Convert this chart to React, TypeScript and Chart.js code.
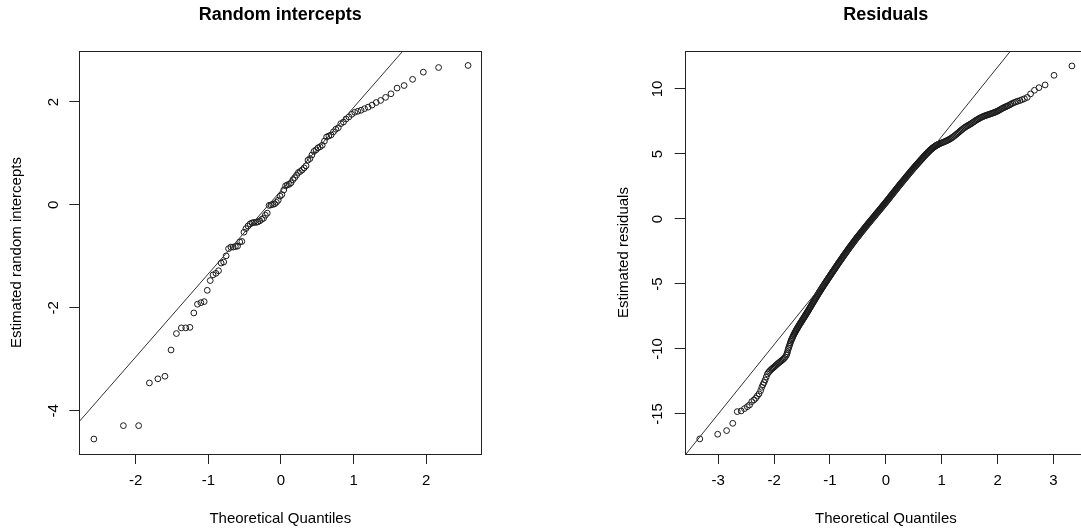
import { useEffect, useRef } from 'react';
import { Chart, registerables } from 'chart.js';

Chart.register(...registerables);

const FONT = "'Liberation Sans', Arial, Helvetica, sans-serif";

// ---------- Left panel: random intercepts ----------
const leftTitle = 'Random intercepts';
const leftXLabel = 'Theoretical Quantiles';
const leftYLabel = 'Estimated random intercepts';
const leftXTicks = [-2, -1, 0, 1, 2];
const leftYTicks = [-4, -2, 0, 2];
const leftQuantiles = [
  -2.576, -2.17, -1.96, -1.812, -1.695, -1.598, -1.514, -1.44, -1.372, -1.311,
  -1.254, -1.2, -1.15, -1.103, -1.058, -1.015, -0.974, -0.935, -0.896, -0.86,
  -0.824, -0.789, -0.755, -0.722, -0.69, -0.659, -0.628, -0.598, -0.568, -0.539,
  -0.51, -0.482, -0.454, -0.426, -0.399, -0.372, -0.345, -0.319, -0.292, -0.266,
  -0.24, -0.215, -0.189, -0.164, -0.138, -0.113, -0.088, -0.063, -0.038, -0.0125,
  0.0125, 0.038, 0.063, 0.088, 0.113, 0.138, 0.164, 0.189, 0.215, 0.24,
  0.266, 0.292, 0.319, 0.345, 0.372, 0.399, 0.426, 0.454, 0.482, 0.51,
  0.539, 0.568, 0.598, 0.628, 0.659, 0.69, 0.722, 0.755, 0.789, 0.824,
  0.86, 0.896, 0.935, 0.974, 1.015, 1.058, 1.103, 1.15, 1.2, 1.254,
  1.311, 1.372, 1.44, 1.514, 1.598, 1.695, 1.812, 1.96, 2.17, 2.576,
];
const leftIntercepts = [
  -4.55, -4.29, -4.29, -3.46, -3.38, -3.33, -2.82, -2.5, -2.39, -2.39,
  -2.38, -2.1, -1.93, -1.9, -1.88, -1.66, -1.47, -1.36, -1.33, -1.28,
  -1.13, -1.11, -0.99, -0.85, -0.82, -0.82, -0.81, -0.8, -0.72, -0.71,
  -0.53, -0.46, -0.41, -0.37, -0.35, -0.34, -0.34, -0.33, -0.31, -0.28,
  -0.26, -0.2, -0.16, -0.01, 0.0, 0.01, 0.02, 0.05, 0.09, 0.17,
  0.2, 0.29, 0.37, 0.39, 0.4, 0.43, 0.49, 0.53, 0.58, 0.63,
  0.65, 0.68, 0.72, 0.76, 0.87, 0.9, 0.97, 1.04, 1.07, 1.11,
  1.13, 1.16, 1.24, 1.32, 1.34, 1.36, 1.42, 1.47, 1.5, 1.58,
  1.61, 1.67, 1.71, 1.76, 1.8, 1.82, 1.84, 1.87, 1.9, 1.94,
  1.99, 2.03, 2.09, 2.16, 2.27, 2.32, 2.44, 2.58, 2.67, 2.71,
];
const leftLineX = [-3, 2];
const leftLineY = [-4.57, 3.51];

// ---------- Right panel: residuals ----------
const rightTitle = 'Residuals';
const rightXLabel = 'Theoretical Quantiles';
const rightYLabel = 'Estimated residuals';
const rightXTicks = [-3, -2, -1, 0, 1, 2, 3];
const rightYTicks = [-15, -10, -5, 0, 5, 10];
const residualLowerTail: [number, number][] = [
  [-3.33, -16.92], [-3.01, -16.56], [-2.85, -16.28], [-2.74, -15.72], [-2.66, -14.82],
  [-2.59, -14.77], [-2.53, -14.59], [-2.48, -14.44], [-2.44, -14.31], [-2.4, -14.05],
  [-2.36, -13.92], [-2.33, -13.79], [-2.3, -13.62], [-2.27, -13.45], [-2.24, -13.2],
  [-2.22, -12.95], [-2.2, -12.75], [-2.18, -12.58], [-2.16, -12.38], [-2.14, -12.15],
];
const residualLowerBand: [number, number][] = [
  [-2.12, -11.92], [-2.1, -11.8], [-2.08, -11.7], [-2.06, -11.61], [-2.04, -11.53],
  [-2.02, -11.46], [-2.0, -11.39], [-1.98, -11.31], [-1.96, -11.23], [-1.94, -11.15],
  [-1.92, -11.08], [-1.9, -11.01], [-1.88, -10.94], [-1.86, -10.87], [-1.84, -10.8],
  [-1.82, -10.72], [-1.8, -10.62], [-1.78, -10.48], [-1.77, -10.36], [-1.76, -10.22],
];
const residualMidBand: [number, number][] = [
  [-1.75, -10.05], [-1.74, -9.92], [-1.73, -9.79], [-1.72, -9.66], [-1.71, -9.53],
  [-1.7, -9.4], [-1.69, -9.3], [-1.68, -9.21], [-1.67, -9.11], [-1.66, -9.02],
  [-1.65, -8.92], [-1.64, -8.84], [-1.63, -8.76], [-1.62, -8.68], [-1.61, -8.6],
  [-1.6, -8.52], [-1.59, -8.45], [-1.58, -8.38], [-1.57, -8.3], [-1.56, -8.23],
  [-1.55, -8.16], [-1.54, -8.09], [-1.53, -8.02], [-1.52, -7.96], [-1.51, -7.89],
  [-1.5, -7.82], [-1.49, -7.75], [-1.48, -7.68], [-1.47, -7.62], [-1.46, -7.55],
  [-1.45, -7.48], [-1.44, -7.41], [-1.43, -7.34], [-1.42, -7.27], [-1.41, -7.2],
  [-1.4, -7.13], [-1.39, -7.06], [-1.38, -6.99], [-1.37, -6.91], [-1.36, -6.84],
  [-1.35, -6.77], [-1.34, -6.7], [-1.33, -6.63], [-1.32, -6.55], [-1.31, -6.48],
  [-1.3, -6.41], [-1.29, -6.34], [-1.28, -6.27], [-1.27, -6.19], [-1.26, -6.12],
  [-1.25, -6.05], [-1.24, -5.98], [-1.23, -5.91], [-1.22, -5.84], [-1.21, -5.77],
  [-1.2, -5.7], [-1.19, -5.63], [-1.18, -5.56], [-1.17, -5.5], [-1.16, -5.43],
  [-1.15, -5.36], [-1.14, -5.29], [-1.13, -5.23], [-1.12, -5.16], [-1.11, -5.1],
  [-1.1, -5.03], [-1.09, -4.96], [-1.08, -4.9], [-1.07, -4.83], [-1.06, -4.77],
  [-1.05, -4.7], [-1.04, -4.64], [-1.03, -4.57], [-1.02, -4.51], [-1.01, -4.44],
  [-1.0, -4.38], [-0.99, -4.32], [-0.98, -4.25], [-0.97, -4.19], [-0.96, -4.12],
  [-0.95, -4.06], [-0.94, -4.0], [-0.93, -3.93], [-0.92, -3.87], [-0.91, -3.8],
  [-0.9, -3.74], [-0.89, -3.68], [-0.88, -3.61], [-0.87, -3.55], [-0.86, -3.48],
  [-0.85, -3.42], [-0.84, -3.36], [-0.83, -3.3], [-0.82, -3.23], [-0.81, -3.17],
  [-0.8, -3.11], [-0.79, -3.05], [-0.78, -2.99], [-0.77, -2.92], [-0.76, -2.86],
  [-0.75, -2.8], [-0.74, -2.74], [-0.73, -2.68], [-0.72, -2.62], [-0.71, -2.56],
  [-0.7, -2.5], [-0.69, -2.44], [-0.68, -2.38], [-0.67, -2.32], [-0.66, -2.26],
  [-0.65, -2.2], [-0.64, -2.14], [-0.63, -2.09], [-0.62, -2.03], [-0.61, -1.97],
  [-0.6, -1.91], [-0.59, -1.85], [-0.58, -1.8], [-0.57, -1.74], [-0.56, -1.68],
  [-0.55, -1.62], [-0.54, -1.57], [-0.53, -1.51], [-0.52, -1.46], [-0.51, -1.4],
  [-0.5, -1.35], [-0.49, -1.3], [-0.48, -1.24], [-0.47, -1.19], [-0.46, -1.13],
  [-0.45, -1.08], [-0.44, -1.03], [-0.43, -0.97], [-0.42, -0.92], [-0.41, -0.86],
  [-0.4, -0.81], [-0.39, -0.76], [-0.38, -0.7], [-0.37, -0.65], [-0.36, -0.59],
  [-0.35, -0.54], [-0.34, -0.49], [-0.33, -0.44], [-0.32, -0.38], [-0.31, -0.33],
  [-0.3, -0.28], [-0.29, -0.23], [-0.28, -0.18], [-0.27, -0.12], [-0.26, -0.07],
  [-0.25, -0.02], [-0.24, 0.03], [-0.23, 0.08], [-0.22, 0.14], [-0.21, 0.19],
  [-0.2, 0.24], [-0.19, 0.29], [-0.18, 0.34], [-0.17, 0.4], [-0.16, 0.45],
  [-0.15, 0.5], [-0.14, 0.55], [-0.13, 0.6], [-0.12, 0.66], [-0.11, 0.71],
  [-0.1, 0.76], [-0.09, 0.81], [-0.08, 0.86], [-0.07, 0.92], [-0.06, 0.97],
  [-0.05, 1.02], [-0.04, 1.07], [-0.03, 1.12], [-0.02, 1.18], [-0.01, 1.23],
  [0.0, 1.28], [0.01, 1.33], [0.02, 1.39], [0.03, 1.44], [0.04, 1.5],
  [0.05, 1.55], [0.06, 1.6], [0.07, 1.66], [0.08, 1.71], [0.09, 1.77],
  [0.1, 1.82], [0.11, 1.87], [0.12, 1.93], [0.13, 1.98], [0.14, 2.04],
  [0.15, 2.09], [0.16, 2.14], [0.17, 2.2], [0.18, 2.25], [0.19, 2.31],
  [0.2, 2.36], [0.21, 2.41], [0.22, 2.47], [0.23, 2.52], [0.24, 2.58],
  [0.25, 2.63], [0.26, 2.68], [0.27, 2.73], [0.28, 2.79], [0.29, 2.84],
  [0.3, 2.89], [0.31, 2.94], [0.32, 2.99], [0.33, 3.05], [0.34, 3.1],
  [0.35, 3.15], [0.36, 3.2], [0.37, 3.25], [0.38, 3.31], [0.39, 3.36],
  [0.4, 3.41], [0.41, 3.46], [0.42, 3.51], [0.43, 3.57], [0.44, 3.62],
  [0.45, 3.67], [0.46, 3.72], [0.47, 3.77], [0.48, 3.82], [0.49, 3.87],
  [0.5, 3.92], [0.51, 3.97], [0.52, 4.02], [0.53, 4.07], [0.54, 4.12],
  [0.55, 4.17], [0.56, 4.22], [0.57, 4.26], [0.58, 4.31], [0.59, 4.36],
  [0.6, 4.41], [0.61, 4.46], [0.62, 4.5], [0.63, 4.55], [0.64, 4.6],
  [0.65, 4.65], [0.66, 4.7], [0.67, 4.74], [0.68, 4.79], [0.69, 4.84],
  [0.7, 4.89], [0.71, 4.93], [0.72, 4.98], [0.73, 5.02], [0.74, 5.07],
  [0.75, 5.11], [0.76, 5.15], [0.77, 5.19], [0.78, 5.24], [0.79, 5.28],
  [0.8, 5.32], [0.81, 5.36], [0.82, 5.39], [0.83, 5.43], [0.84, 5.46],
  [0.85, 5.5], [0.86, 5.53], [0.87, 5.56], [0.88, 5.59], [0.89, 5.62],
  [0.9, 5.65], [0.91, 5.67], [0.92, 5.69], [0.93, 5.72], [0.94, 5.74],
  [0.95, 5.76],
];
const residualUpperBand: [number, number][] = [
  [0.97, 5.8], [0.99, 5.84], [1.01, 5.87], [1.03, 5.91], [1.05, 5.94],
  [1.07, 5.98], [1.09, 6.02], [1.11, 6.06], [1.13, 6.11], [1.15, 6.16],
  [1.17, 6.21], [1.19, 6.27], [1.21, 6.33], [1.23, 6.4], [1.25, 6.47],
  [1.27, 6.54], [1.29, 6.61], [1.31, 6.68], [1.33, 6.76], [1.35, 6.83],
  [1.37, 6.9], [1.39, 6.97], [1.41, 7.03], [1.43, 7.09], [1.45, 7.14],
  [1.47, 7.19], [1.49, 7.24], [1.51, 7.29], [1.53, 7.34], [1.55, 7.4],
  [1.57, 7.46], [1.59, 7.52], [1.61, 7.58], [1.63, 7.63], [1.65, 7.68],
  [1.67, 7.73], [1.69, 7.78], [1.71, 7.82], [1.73, 7.86], [1.75, 7.9],
  [1.77, 7.93], [1.79, 7.96], [1.81, 7.99], [1.83, 8.02], [1.85, 8.05],
  [1.87, 8.08], [1.89, 8.11], [1.91, 8.14], [1.93, 8.17], [1.95, 8.2],
  [1.97, 8.24], [1.99, 8.28], [2.01, 8.32], [2.03, 8.37], [2.05, 8.42],
  [2.07, 8.47], [2.09, 8.52], [2.11, 8.56], [2.13, 8.6], [2.15, 8.64],
  [2.17, 8.68], [2.19, 8.72],
];
const residualUpperTail: [number, number][] = [
  [2.22, 8.78], [2.24, 8.84], [2.27, 8.9], [2.3, 8.96], [2.33, 9.01],
  [2.36, 9.06], [2.4, 9.11], [2.44, 9.18], [2.48, 9.25], [2.53, 9.35],
  [2.59, 9.62], [2.66, 9.9], [2.74, 10.1], [2.85, 10.31], [3.01, 11.05],
  [3.33, 11.77],
];
const rightLineX = [-4, 3];
const rightLineY = [-20.34, 17.02];

const boxPlugin = {
  id: 'qqbox',
  afterDraw(chart: any) {
    const { ctx, chartArea } = chart;
    const l = Math.round(chartArea.left) + 0.5;
    const t = Math.round(chartArea.top) + 0.5;
    const r = Math.round(chartArea.right) + 0.5;
    const b = Math.round(chartArea.bottom) + 0.5;
    ctx.save();
    ctx.strokeStyle = '#222';
    ctx.lineWidth = 1;
    ctx.strokeRect(l, t, r - l, b - t);
    ctx.restore();
  },
};

interface PanelSpec {
  title: string;
  xLabel: string;
  yLabel: string;
  xMin: number;
  xMax: number;
  yMin: number;
  yMax: number;
  xTicks: number[];
  yTicks: number[];
  points: { x: number; y: number }[];
  lineX: number[];
  lineY: number[];
  yAxisWidth: number;
  rightPad: number;
  yTickPad: number;
  yTitlePad: number;
}

function buildConfig(p: PanelSpec): any {
  return {
    type: 'scatter',
    data: {
      datasets: [
        {
          type: 'line',
          data: p.lineX.map((x, i) => ({ x, y: p.lineY[i] })),
          borderColor: '#333',
          borderWidth: 1,
          pointRadius: 0,
          showLine: true,
          fill: false,
          tension: 0,
        },
        {
          type: 'scatter',
          data: p.points,
          pointStyle: 'circle',
          pointRadius: 2.9,
          pointHoverRadius: 2.9,
          pointBorderWidth: 1,
          pointBorderColor: '#1a1a1a',
          pointBackgroundColor: 'rgba(0,0,0,0)',
        },
      ],
    },
    options: {
      animation: false,
      responsive: false,
      devicePixelRatio: 1,
      events: [],
      layout: { padding: { left: 0, right: p.rightPad, top: 0, bottom: 0 } },
      plugins: {
        legend: { display: false },
        tooltip: { enabled: false },
        title: {
          display: true,
          text: p.title,
          fullSize: false,
          color: '#000',
          font: { family: FONT, size: 18, weight: 'bold' },
          padding: { top: 4, bottom: 25.4 },
        },
      },
      scales: {
        x: {
          type: 'linear',
          position: 'bottom',
          min: p.xMin,
          max: p.xMax,
          afterBuildTicks: (s: any) => {
            s.ticks = p.xTicks.map((v) => ({ value: v }));
          },
          afterFit: (s: any) => {
            s.height = 77;
          },
          grid: { drawOnChartArea: false, drawTicks: true, tickLength: 10, color: '#222', lineWidth: 1 },
          border: { display: false },
          ticks: {
            color: '#000',
            font: { family: FONT, size: 15 },
            padding: 8,
            minRotation: 0,
            maxRotation: 0,
            autoSkip: false,
            callback: (v: any) => String(v),
          },
          title: {
            display: true,
            text: p.xLabel,
            color: '#000',
            font: { family: FONT, size: 15 },
            padding: { top: 0, bottom: 3.6 },
          },
        },
        y: {
          type: 'linear',
          position: 'left',
          min: p.yMin,
          max: p.yMax,
          afterBuildTicks: (s: any) => {
            s.ticks = p.yTicks.map((v) => ({ value: v }));
          },
          afterFit: (s: any) => {
            s.width = p.yAxisWidth;
          },
          grid: { drawOnChartArea: false, drawTicks: true, tickLength: 10, color: '#222', lineWidth: 1 },
          border: { display: false },
          ticks: {
            color: '#000',
            font: { family: FONT, size: 15 },
            padding: p.yTickPad,
            minRotation: 90,
            maxRotation: 90,
            crossAlign: 'center',
            autoSkip: false,
            callback: (v: any) => String(v),
          },
          title: {
            display: true,
            text: p.yLabel,
            color: '#000',
            font: { family: FONT, size: 15 },
            padding: { top: p.yTitlePad, bottom: 0 },
          },
        },
      },
    },
    plugins: [boxPlugin],
  };
}

export default function App() {
  const leftRef = useRef<HTMLCanvasElement>(null);
  const rightRef = useRef<HTMLCanvasElement>(null);

  useEffect(() => {
    const leftPoints = leftQuantiles.map((x, i) => ({ x, y: leftIntercepts[i] }));
    const rightPoints = [
      ...residualLowerTail,
      ...residualLowerBand,
      ...residualMidBand,
      ...residualUpperBand,
      ...residualUpperTail,
    ].map(([x, y]) => ({ x, y }));

    const c1 = new Chart(
      leftRef.current as HTMLCanvasElement,
      buildConfig({
        title: leftTitle,
        xLabel: leftXLabel,
        yLabel: leftYLabel,
        xMin: -2.777,
        xMax: 2.758,
        yMin: -4.841,
        yMax: 2.991,
        xTicks: leftXTicks,
        yTicks: leftYTicks,
        points: leftPoints,
        lineX: leftLineX,
        lineY: leftLineY,
        yAxisWidth: 79.3,
        rightPad: 58.7,
        yTickPad: 8.5,
        yTitlePad: 7.8,
      })
    );
    const c2 = new Chart(
      rightRef.current as HTMLCanvasElement,
      buildConfig({
        title: rightTitle,
        xLabel: rightXLabel,
        yLabel: rightYLabel,
        xMin: -3.6,
        xMax: 3.6,
        yMin: -18.08,
        yMax: 12.92,
        xTicks: rightXTicks,
        yTicks: rightYTicks,
        points: rightPoints,
        lineX: rightLineX,
        lineY: rightLineY,
        yAxisWidth: 144.7,
        rightPad: 13,
        yTickPad: 6.1,
        yTitlePad: 75.1,
      })
    );
    return () => {
      c1.destroy();
      c2.destroy();
    };
  }, []);

  return (
    <div
      style={{
        position: 'fixed',
        left: 0,
        top: 0,
        width: 1081,
        height: 531,
        overflow: 'hidden',
        background: '#fff',
      }}
    >
      <canvas
        ref={leftRef}
        width={540}
        height={531}
        style={{ position: 'absolute', left: 0, top: 0, width: 540, height: 531 }}
      />
      <canvas
        ref={rightRef}
        width={560}
        height={531}
        style={{ position: 'absolute', left: 540, top: 0, width: 560, height: 531 }}
      />
    </div>
  );
}
